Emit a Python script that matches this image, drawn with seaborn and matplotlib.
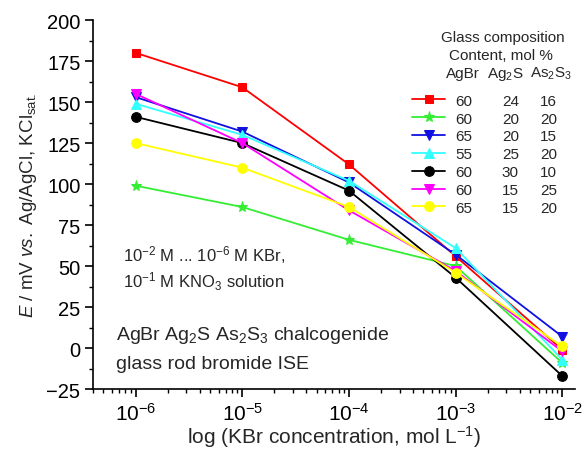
import numpy as np
import pandas as pd
import seaborn as sns
import matplotlib
matplotlib.use("Agg")
import matplotlib.pyplot as plt
from matplotlib.ticker import LogLocator, MultipleLocator, NullFormatter

# ---------------- data ----------------
concentration = [1e-6, 1e-5, 1e-4, 1e-3, 1e-2]
agbr = ["60", "60", "65", "55", "60", "60", "65"]
ag2s = ["24", "20", "20", "25", "30", "15", "15"]
as2s3 = ["16", "20", "15", "20", "10", "25", "20"]
red_vals = [180, 159, 112, 56, -1]
green_vals = [99, 86, 66, 50, -9]
blue_vals = [153, 132, 101, 57, 7]
cyan_vals = [149, 130, 102, 61, -7]
black_vals = [141, 125, 96, 43, -17]
magenta_vals = [155, 125, 84, 47, -2]
yellow_vals = [125, 110, 86, 46, 1]

series = [red_vals, green_vals, blue_vals, cyan_vals, black_vals, magenta_vals, yellow_vals]
colors = ["#ff0000", "#33ee33", "#1010e0", "#33ffff", "#000000", "#ff00ff", "#ffff00"]
markers = ["s", "*", "v", "^", "o", "v", "o"]
msizes = [6, 8, 7, 7, 7, 7, 7]

sns.set_theme(style="ticks")
plt.rcParams["font.family"] = ["Liberation Sans", "DejaVu Sans"]
plt.rcParams["mathtext.fontset"] = "custom"
plt.rcParams["mathtext.rm"] = "Liberation Sans"
plt.rcParams["mathtext.it"] = "Liberation Sans:italic"
plt.rcParams["mathtext.default"] = "regular"

fig = plt.figure(figsize=(5.88, 4.52), dpi=100)
ax = fig.add_axes([0.158, 0.137, 0.82, 0.8165])

rows = []
for i, vals in enumerate(series):
    for c, v in zip(concentration, vals):
        rows.append({"conc": c, "E": v, "sid": i})
df = pd.DataFrame(rows)

for i in range(len(series)):
    sub = df[df.sid == i]
    sns.lineplot(data=sub, x="conc", y="E", ax=ax, color=colors[i], marker=markers[i],
                 markersize=msizes[i], markeredgecolor=colors[i], linewidth=1.3,
                 label=agbr[i], legend=False)

ax.set_xscale("log")
ax.set_xlim(10 ** -6.4, 10 ** -1.88)
ax.set_ylim(-25, 200)
ax.yaxis.set_major_locator(MultipleLocator(25))
ax.yaxis.set_minor_locator(MultipleLocator(12.5))
ax.xaxis.set_major_locator(LogLocator(base=10, numticks=20))
ax.xaxis.set_minor_locator(LogLocator(base=10, subs=np.arange(2, 10), numticks=20))
ax.xaxis.set_minor_formatter(NullFormatter())
ax.set_xticks(concentration)
ax.set_xticklabels([r"$10^{-6}$", r"$10^{-5}$", r"$10^{-4}$", r"$10^{-3}$", r"$10^{-2}$"])

sns.despine(ax=ax)
for sp in ["left", "bottom"]:
    ax.spines[sp].set_linewidth(1.2)
    ax.spines[sp].set_color("black")
ax.tick_params(axis="both", which="major", direction="out", length=6, width=1.2,
               labelsize=14.5, colors="black", pad=3)
ax.tick_params(axis="x", which="major", labelsize=15)
ax.tick_params(axis="both", which="minor", direction="out", length=3, width=1.0, colors="black")

ax.set_xlabel(r"log (KBr concentration, mol L$^{-1}$)", fontsize=15, labelpad=0)
ax.set_ylabel(r"$\mathit{E}$ / mV $\mathit{vs.}$ Ag/AgCl, KCl$_{sat.}$", fontsize=13.5, labelpad=5)

# annotations
ax.text(0.062, 0.366, r"10$^{-2}$ M ... 10$^{-6}$ M KBr,", transform=ax.transAxes, fontsize=12, va="center")
ax.text(0.062, 0.293, r"10$^{-1}$ M KNO$_3$ solution", transform=ax.transAxes, fontsize=12, va="center")
ax.text(0.048, 0.149, r"AgBr Ag$_2$S As$_2$S$_3$ chalcogenide", transform=ax.transAxes, fontsize=14, va="center")
ax.text(0.048, 0.068, "glass rod bromide ISE", transform=ax.transAxes, fontsize=14, va="center")

# legend (table)
LFS = 11
leg = ax.legend(loc="upper left", bbox_to_anchor=(0.662, 0.800), frameon=False,
                fontsize=LFS, handlelength=2.15, handletextpad=0.65, labelspacing=0.25,
                borderpad=0, borderaxespad=0)

fig.canvas.draw()
renderer = fig.canvas.get_renderer()
inv = fig.transFigure.inverted()
texts = leg.get_texts()
x_col1 = None
for t, s2, s3 in zip(texts, ag2s, as2s3):
    bb = t.get_window_extent(renderer)
    (x0, y0), (x1, y1) = inv.transform([[bb.x0, bb.y0], [bb.x1, bb.y1]])
    yc = (y0 + y1) / 2
    fig.text(x0 + 0.080, yc, s2, fontsize=LFS, va="center", ha="left")
    fig.text(x0 + 0.145, yc, s3, fontsize=LFS, va="center", ha="left")
    if x_col1 is None:
        x_col1 = x0

fig.text(0.855, 0.916, "Glass composition", fontsize=LFS, ha="center", va="center")
fig.text(0.852, 0.876, "Content, mol %", fontsize=LFS, ha="center", va="center")
fig.text(x_col1 - 0.015, 0.836, "AgBr", fontsize=LFS, ha="left", va="center")
fig.text(x_col1 + 0.054, 0.836, r"Ag$_2$S", fontsize=LFS, ha="left", va="center")
fig.text(x_col1 + 0.128, 0.836, r"As$_2$S$_3$", fontsize=LFS, ha="left", va="center")

fig.savefig("out.png", dpi=100)
